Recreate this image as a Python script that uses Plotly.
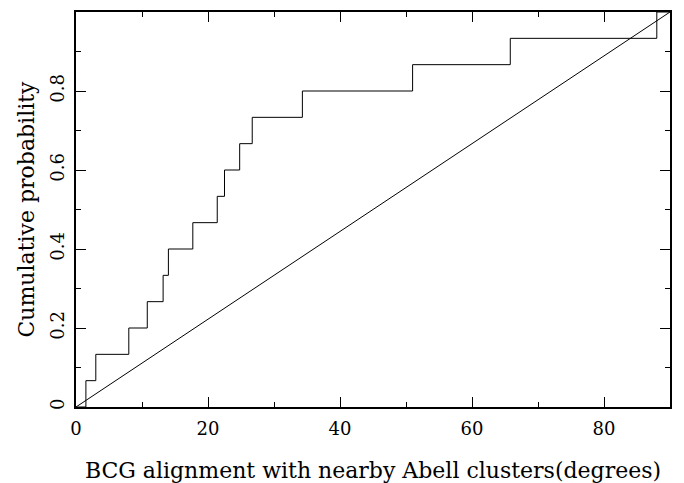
import plotly.graph_objects as go

# Data
step_x = [1.5, 3.0, 8.0, 10.8, 13.2, 14.0, 17.7, 21.4, 22.5, 24.8, 26.7, 34.3, 51.0, 65.8, 88.0]
n_points = len(step_x)
cum_prob = [(i + 1) / n_points for i in range(n_points)]
x_end = 90
diag_x = [0, 90]
diag_y = [0, 1]
x_ticks = [0, 20, 40, 60, 80]
y_ticks = [0, 0.2, 0.4, 0.6, 0.8]
y_tick_text = ["0", "0.2", "0.4", "0.6", "0.8"]

xs = [0] + step_x + [x_end]
ys = [0] + cum_prob + [cum_prob[-1]]

fig = go.Figure()
fig.add_trace(go.Scatter(x=xs, y=ys, mode="lines", line=dict(shape="hv", color="black", width=1),
                         hoverinfo="skip", showlegend=False))
fig.add_trace(go.Scatter(x=diag_x, y=diag_y, mode="lines", line=dict(color="black", width=1),
                         hoverinfo="skip", showlegend=False))

font = dict(family="DejaVu Serif", size=18, color="black")
fig.update_layout(
    width=676, height=475,
    margin=dict(l=68, r=14, t=2, b=76),
    paper_bgcolor="white", plot_bgcolor="white",
    font=font,
    xaxis=dict(range=[0, 90], tickvals=x_ticks, ticks="inside", ticklen=10, tickwidth=1,
               tickcolor="black", showline=True, linecolor="black", linewidth=1.5, mirror="allticks",
               showgrid=False, zeroline=False, ticklabelstandoff=5,
               minor=dict(dtick=10, tick0=0, ticks="inside", ticklen=5, tickcolor="black", showgrid=False),
               title=dict(text="BCG alignment with nearby Abell clusters(degrees)", standoff=25),
               tickfont=font),
    yaxis=dict(range=[0, 1], tickvals=y_ticks, ticktext=y_tick_text, ticks="inside", ticklen=10,
               tickwidth=1, tickcolor="black", showline=True, linecolor="black", linewidth=1.5,
               mirror="allticks", showgrid=False, zeroline=False, tickangle=-90, ticklabelstandoff=3,
               minor=dict(dtick=0.1, tick0=0, ticks="inside", ticklen=5, tickcolor="black", showgrid=False),
               title=dict(text="Cumulative probability", standoff=6),
               tickfont=font),
)
fig.write_html("out.html")
